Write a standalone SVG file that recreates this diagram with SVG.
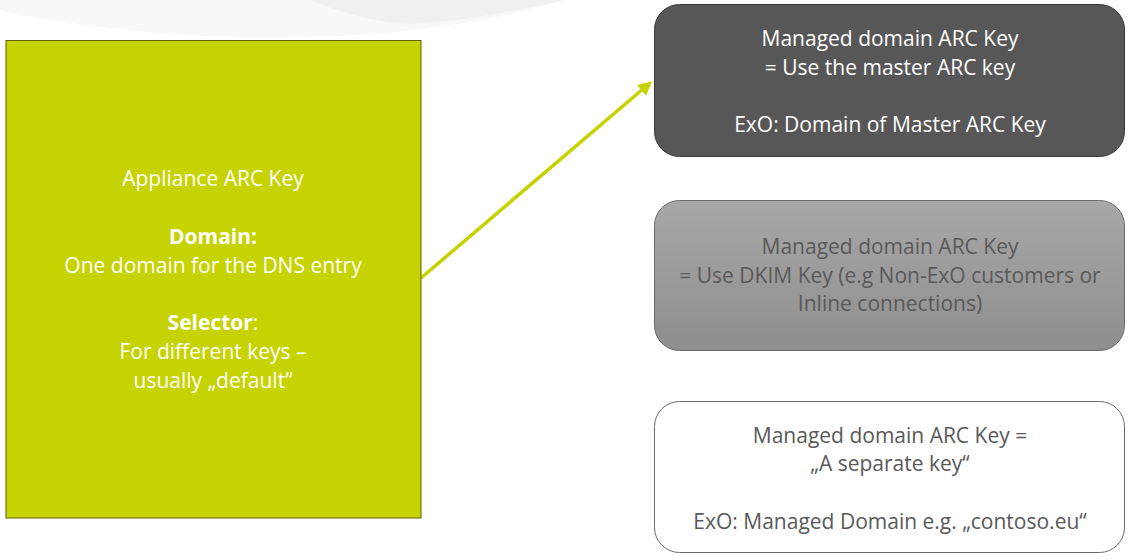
<svg xmlns="http://www.w3.org/2000/svg" width="1130" height="560" viewBox="0 0 1130 560">
<style>
.t{font-family:"Open Sans","Liberation Sans",sans-serif;font-size:21px;text-anchor:middle}
.w{fill:#ffffff}
.g{fill:#595959}
.b{font-weight:bold}
</style>
<defs>
<linearGradient id="gr" x1="0" y1="0" x2="0" y2="1">
<stop offset="0" stop-color="#a8a8a8"/>
<stop offset="1" stop-color="#8e8e8e"/>
</linearGradient>
<marker id="ah" markerWidth="4" markerHeight="4" refX="3.2" refY="2" orient="auto" markerUnits="strokeWidth">
<path d="M0,0 L4,2 L0,4 Z" fill="#c6d300"/>
</marker>
</defs>
<g id="background">
<path d="M0,0 L565,0 C500,20 400,38 260,38 C150,36 50,22 0,10 Z" fill="#f8f8f8"/>
<path d="M310,0 L565,0 C520,10 460,22 410,24 C370,22 335,10 310,0 Z" fill="#f0f0f0"/>
</g>
<g id="connectors">
<line x1="421" y1="278" x2="650" y2="83" stroke="#c6d300" stroke-width="3.5" marker-end="url(#ah)"/>
</g>
<g id="appliance">
<rect x="6" y="40.5" width="415" height="477.5" fill="#c6d300" stroke="#5f5f00" stroke-width="1"/>
<text class="t w" x="213" y="186">Appliance ARC Key</text>
<text class="t w b" x="213" y="244">Domain:</text>
<text class="t w" x="213" y="273">One domain for the DNS entry</text>
<text class="t w" x="213" y="330"><tspan class="b">Selector</tspan>:</text>
<text class="t w" x="213" y="359">For different keys –</text>
<text class="t w" x="213" y="388">usually „default“</text>
</g>
<g id="master">
<rect x="654.5" y="4.5" width="470" height="152" rx="25" fill="#575757" stroke="#3a3a3a" stroke-width="1"/>
<text class="t w" x="890" y="46">Managed domain ARC Key</text>
<text class="t w" x="890" y="75">= Use the master ARC key</text>
<text class="t w" x="890" y="132">ExO: Domain of Master ARC Key</text>
</g>
<g id="dkim">
<rect x="654.5" y="200.5" width="470" height="150" rx="25" fill="url(#gr)" stroke="#6a6a6a" stroke-width="1"/>
<text class="t g" x="890" y="254">Managed domain ARC Key</text>
<text class="t g" x="890" y="283">= Use DKIM Key (e.g Non-ExO customers or</text>
<text class="t g" x="890" y="311">Inline connections)</text>
</g>
<g id="separate">
<rect x="654.5" y="401.5" width="470" height="151" rx="25" fill="#ffffff" stroke="#6a6a6a" stroke-width="1"/>
<text class="t g" x="890" y="443">Managed domain ARC Key =</text>
<text class="t g" x="890" y="471">„A separate key“</text>
<text class="t g" x="890" y="529">ExO: Managed Domain e.g. „contoso.eu“</text>
</g>
</svg>
